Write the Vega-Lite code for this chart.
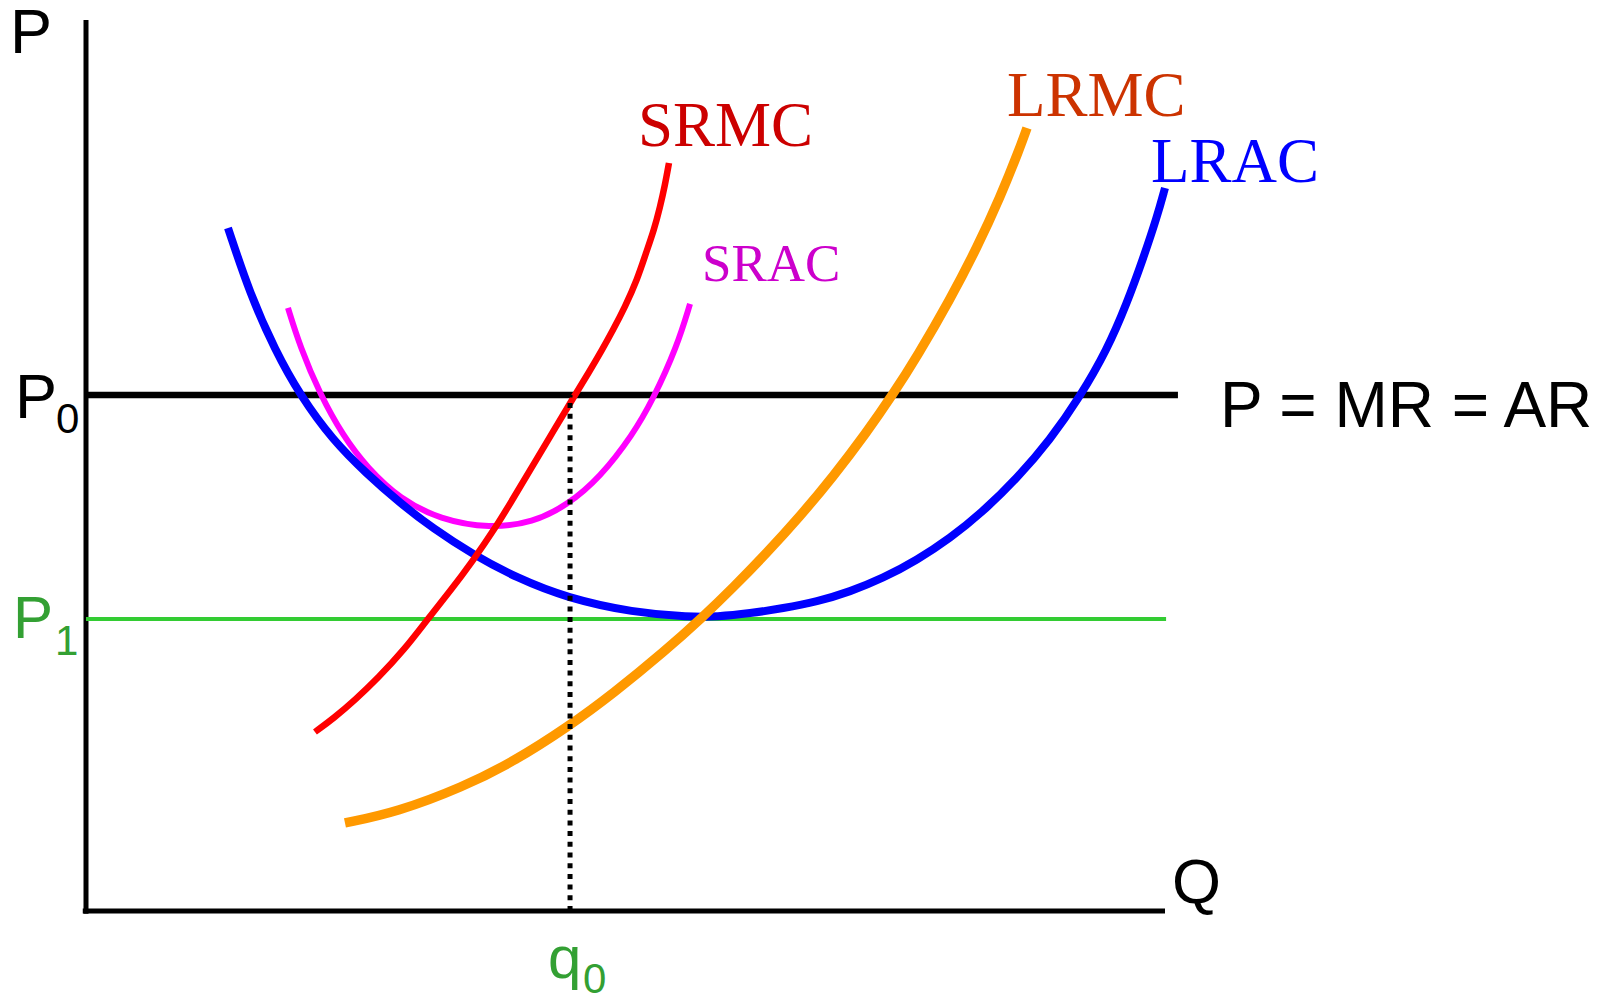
{
  "$schema": "https://vega.github.io/schema/vega-lite/v6.json",
  "width": 1079,
  "height": 891,
  "autosize": {"type": "none"},
  "padding": {"left": 86, "top": 20, "right": 440, "bottom": 84},
  "background": "white",
  "config": {"view": {"stroke": null}},
  "datasets": {
    "curves": [
      {"curve": "LRAC", "q": 13.16, "p": 76.66},
      {"curve": "LRAC", "q": 15.20, "p": 69.25},
      {"curve": "LRAC", "q": 17.52, "p": 62.96},
      {"curve": "LRAC", "q": 19.83, "p": 57.91},
      {"curve": "LRAC", "q": 22.89, "p": 52.81},
      {"curve": "LRAC", "q": 26.04, "p": 49.05},
      {"curve": "LRAC", "q": 29.10, "p": 45.79},
      {"curve": "LRAC", "q": 32.16, "p": 42.93},
      {"curve": "LRAC", "q": 35.87, "p": 40.00},
      {"curve": "LRAC", "q": 39.94, "p": 37.37},
      {"curve": "LRAC", "q": 44.58, "p": 35.13},
      {"curve": "LRAC", "q": 50.69, "p": 33.50},
      {"curve": "LRAC", "q": 55.98, "p": 33.00},
      {"curve": "LRAC", "q": 58.48, "p": 33.03},
      {"curve": "LRAC", "q": 61.54, "p": 33.41},
      {"curve": "LRAC", "q": 64.60, "p": 33.97},
      {"curve": "LRAC", "q": 67.75, "p": 34.71},
      {"curve": "LRAC", "q": 70.81, "p": 35.84},
      {"curve": "LRAC", "q": 73.86, "p": 37.34},
      {"curve": "LRAC", "q": 77.02, "p": 39.39},
      {"curve": "LRAC", "q": 80.07, "p": 41.83},
      {"curve": "LRAC", "q": 83.13, "p": 44.81},
      {"curve": "LRAC", "q": 86.28, "p": 48.56},
      {"curve": "LRAC", "q": 89.34, "p": 52.86},
      {"curve": "LRAC", "q": 92.12, "p": 57.72},
      {"curve": "LRAC", "q": 94.62, "p": 62.96},
      {"curve": "LRAC", "q": 96.48, "p": 68.24},
      {"curve": "LRAC", "q": 97.96, "p": 73.18},
      {"curve": "LRAC", "q": 99.26, "p": 77.89},
      {"curve": "LRAC", "q": 100.00, "p": 81.15},
      {"curve": "SRAC", "q": 18.72, "p": 67.68},
      {"curve": "SRAC", "q": 19.83, "p": 63.37},
      {"curve": "SRAC", "q": 21.69, "p": 57.98},
      {"curve": "SRAC", "q": 23.82, "p": 53.33},
      {"curve": "SRAC", "q": 26.04, "p": 49.78},
      {"curve": "SRAC", "q": 29.10, "p": 46.24},
      {"curve": "SRAC", "q": 32.81, "p": 43.94},
      {"curve": "SRAC", "q": 37.44, "p": 42.94},
      {"curve": "SRAC", "q": 41.43, "p": 43.61},
      {"curve": "SRAC", "q": 44.58, "p": 45.52},
      {"curve": "SRAC", "q": 47.64, "p": 48.66},
      {"curve": "SRAC", "q": 50.69, "p": 53.48},
      {"curve": "SRAC", "q": 52.55, "p": 57.41},
      {"curve": "SRAC", "q": 54.77, "p": 63.33},
      {"curve": "SRAC", "q": 55.98, "p": 68.13},
      {"curve": "SRMC", "q": 21.22, "p": 20.09},
      {"curve": "SRMC", "q": 22.98, "p": 21.66},
      {"curve": "SRMC", "q": 24.93, "p": 23.68},
      {"curve": "SRMC", "q": 27.06, "p": 26.15},
      {"curve": "SRMC", "q": 29.47, "p": 29.29},
      {"curve": "SRMC", "q": 31.60, "p": 32.66},
      {"curve": "SRMC", "q": 33.83, "p": 36.03},
      {"curve": "SRMC", "q": 35.77, "p": 39.17},
      {"curve": "SRMC", "q": 38.00, "p": 43.10},
      {"curve": "SRMC", "q": 39.67, "p": 46.46},
      {"curve": "SRMC", "q": 41.33, "p": 49.83},
      {"curve": "SRMC", "q": 43.37, "p": 53.98},
      {"curve": "SRMC", "q": 45.32, "p": 57.91},
      {"curve": "SRMC", "q": 46.62, "p": 60.49},
      {"curve": "SRMC", "q": 47.82, "p": 62.96},
      {"curve": "SRMC", "q": 48.84, "p": 65.21},
      {"curve": "SRMC", "q": 49.95, "p": 67.79},
      {"curve": "SRMC", "q": 51.07, "p": 70.82},
      {"curve": "SRMC", "q": 51.90, "p": 73.85},
      {"curve": "SRMC", "q": 52.64, "p": 76.43},
      {"curve": "SRMC", "q": 53.20, "p": 79.01},
      {"curve": "SRMC", "q": 53.66, "p": 81.48},
      {"curve": "SRMC", "q": 54.03, "p": 83.95},
      {"curve": "LRMC", "q": 24.00, "p": 9.88},
      {"curve": "LRMC", "q": 28.82, "p": 11.10},
      {"curve": "LRMC", "q": 34.94, "p": 13.92},
      {"curve": "LRMC", "q": 39.57, "p": 16.72},
      {"curve": "LRMC", "q": 44.76, "p": 20.74},
      {"curve": "LRMC", "q": 48.84, "p": 24.40},
      {"curve": "LRMC", "q": 53.66, "p": 29.18},
      {"curve": "LRMC", "q": 57.18, "p": 33.02},
      {"curve": "LRMC", "q": 59.96, "p": 36.28},
      {"curve": "LRMC", "q": 63.11, "p": 40.21},
      {"curve": "LRMC", "q": 66.17, "p": 44.29},
      {"curve": "LRMC", "q": 69.23, "p": 48.73},
      {"curve": "LRMC", "q": 72.38, "p": 53.77},
      {"curve": "LRMC", "q": 74.79, "p": 58.00},
      {"curve": "LRMC", "q": 77.02, "p": 62.23},
      {"curve": "LRMC", "q": 80.07, "p": 68.61},
      {"curve": "LRMC", "q": 82.58, "p": 74.46},
      {"curve": "LRMC", "q": 84.71, "p": 80.06},
      {"curve": "LRMC", "q": 86.56, "p": 85.67},
      {"curve": "LRMC", "q": 87.21, "p": 87.88}
    ],
    "rules": [
      {"name": "yaxis", "q": 0, "p": -0.3, "q2": 0, "p2": 100},
      {"name": "xaxis", "q": -0.3, "p": 0, "q2": 100, "p2": 0},
      {"name": "P0", "q": 0, "p": 57.91, "q2": 101.2, "p2": 57.91},
      {"name": "P1", "q": 0, "p": 32.77, "q2": 100.1, "p2": 32.77},
      {"name": "q0", "q": 44.86, "p": 0, "q2": 44.86, "p2": 57.91}
    ],
    "labels": [
      {"label": "P", "kind": "axisP", "q": -7.04, "p": 96.30},
      {"label": "P", "kind": "P0", "q": -6.58, "p": 55.33},
      {"label": "0", "kind": "P0sub", "q": -2.78, "p": 53.65},
      {"label": "P", "kind": "P1", "q": -6.77, "p": 30.64},
      {"label": "1", "kind": "P1sub", "q": -2.87, "p": 28.73},
      {"label": "q", "kind": "q0", "q": 42.82, "p": -7.52},
      {"label": "0", "kind": "q0sub", "q": 46.06, "p": -9.20},
      {"label": "P = MR = AR", "kind": "demand", "q": 105.10, "p": 54.32},
      {"label": "Q", "kind": "axisQ", "q": 100.65, "p": 0.90},
      {"label": "SRMC", "kind": "SRMC", "q": 51.16, "p": 85.86},
      {"label": "SRAC", "kind": "SRAC", "q": 57.09, "p": 70.71},
      {"label": "LRMC", "kind": "LRMC", "q": 85.36, "p": 89.23},
      {"label": "LRAC", "kind": "LRAC", "q": 98.70, "p": 81.82}
    ]
  },
  "encoding": {
    "x": {"field": "q", "type": "quantitative", "scale": {"domain": [0, 100], "nice": false, "zero": false}, "axis": null},
    "y": {"field": "p", "type": "quantitative", "scale": {"domain": [0, 100], "nice": false, "zero": false}, "axis": null}
  },
  "layer": [
    {
      "data": {"name": "rules"},
      "transform": [{"filter": {"field": "name", "oneOf": ["yaxis", "xaxis"]}}],
      "mark": {"type": "rule", "color": "black", "strokeWidth": 5, "strokeCap": "butt"},
      "encoding": {"x2": {"field": "q2"}, "y2": {"field": "p2"}}
    },
    {
      "data": {"name": "rules"},
      "transform": [{"filter": {"field": "name", "equal": "P1"}}],
      "mark": {"type": "rule", "color": "#33cc33", "strokeWidth": 4, "strokeCap": "butt"},
      "encoding": {"x2": {"field": "q2"}, "y2": {"field": "p2"}}
    },
    {
      "data": {"name": "rules"},
      "transform": [{"filter": {"field": "name", "equal": "P0"}}],
      "mark": {"type": "rule", "color": "black", "strokeWidth": 6.5, "strokeCap": "butt"},
      "encoding": {"x2": {"field": "q2"}, "y2": {"field": "p2"}}
    },
    {
      "data": {"name": "curves"},
      "transform": [{"filter": {"field": "curve", "equal": "SRAC"}}],
      "mark": {"type": "line", "color": "#ff00ff", "strokeWidth": 6, "interpolate": "basis", "strokeCap": "butt"}
    },
    {
      "data": {"name": "curves"},
      "transform": [{"filter": {"field": "curve", "equal": "LRAC"}}],
      "mark": {"type": "line", "color": "#0000ff", "strokeWidth": 8, "interpolate": "basis", "strokeCap": "butt"}
    },
    {
      "data": {"name": "curves"},
      "transform": [{"filter": {"field": "curve", "equal": "SRMC"}}],
      "mark": {"type": "line", "color": "#ff0000", "strokeWidth": 6.5, "interpolate": "basis", "strokeCap": "butt"}
    },
    {
      "data": {"name": "curves"},
      "transform": [{"filter": {"field": "curve", "equal": "LRMC"}}],
      "mark": {"type": "line", "color": "#ff9900", "strokeWidth": 9.5, "interpolate": "basis", "strokeCap": "butt"}
    },
    {
      "data": {"name": "rules"},
      "transform": [{"filter": {"field": "name", "equal": "q0"}}],
      "mark": {"type": "rule", "color": "black", "strokeWidth": 5, "strokeDash": [5, 5.7], "strokeCap": "butt"},
      "encoding": {"x2": {"field": "q2"}, "y2": {"field": "p2"}}
    },
    {
      "data": {"name": "labels"},
      "transform": [{"filter": {"field": "kind", "oneOf": ["axisP", "P0", "axisQ"]}}],
      "mark": {"type": "text", "align": "left", "baseline": "alphabetic", "font": "Liberation Sans", "fontSize": 63, "color": "black"},
      "encoding": {"text": {"field": "label"}}
    },
    {
      "data": {"name": "labels"},
      "transform": [{"filter": {"field": "kind", "equal": "demand"}}],
      "mark": {"type": "text", "align": "left", "baseline": "alphabetic", "font": "Liberation Sans", "fontSize": 64, "color": "black"},
      "encoding": {"text": {"field": "label"}}
    },
    {
      "data": {"name": "labels"},
      "transform": [{"filter": {"field": "kind", "equal": "P0sub"}}],
      "mark": {"type": "text", "align": "left", "baseline": "alphabetic", "font": "Liberation Sans", "fontSize": 42, "color": "black"},
      "encoding": {"text": {"field": "label"}}
    },
    {
      "data": {"name": "labels"},
      "transform": [{"filter": {"field": "kind", "oneOf": ["P1", "q0"]}}],
      "mark": {"type": "text", "align": "left", "baseline": "alphabetic", "font": "Liberation Sans", "fontSize": 60, "color": "#33a033"},
      "encoding": {"text": {"field": "label"}}
    },
    {
      "data": {"name": "labels"},
      "transform": [{"filter": {"field": "kind", "oneOf": ["P1sub", "q0sub"]}}],
      "mark": {"type": "text", "align": "left", "baseline": "alphabetic", "font": "Liberation Sans", "fontSize": 42, "color": "#33a033"},
      "encoding": {"text": {"field": "label"}}
    },
    {
      "data": {"name": "labels"},
      "transform": [{"filter": {"field": "kind", "equal": "SRMC"}}],
      "mark": {"type": "text", "align": "left", "baseline": "alphabetic", "font": "Liberation Serif", "fontSize": 63, "color": "#cc0000"},
      "encoding": {"text": {"field": "label"}}
    },
    {
      "data": {"name": "labels"},
      "transform": [{"filter": {"field": "kind", "equal": "SRAC"}}],
      "mark": {"type": "text", "align": "left", "baseline": "alphabetic", "font": "Liberation Serif", "fontSize": 53, "color": "#cc00cc"},
      "encoding": {"text": {"field": "label"}}
    },
    {
      "data": {"name": "labels"},
      "transform": [{"filter": {"field": "kind", "equal": "LRMC"}}],
      "mark": {"type": "text", "align": "left", "baseline": "alphabetic", "font": "Liberation Serif", "fontSize": 63, "color": "#cc3300"},
      "encoding": {"text": {"field": "label"}}
    },
    {
      "data": {"name": "labels"},
      "transform": [{"filter": {"field": "kind", "equal": "LRAC"}}],
      "mark": {"type": "text", "align": "left", "baseline": "alphabetic", "font": "Liberation Serif", "fontSize": 63, "color": "#0000ff"},
      "encoding": {"text": {"field": "label"}}
    }
  ]
}
